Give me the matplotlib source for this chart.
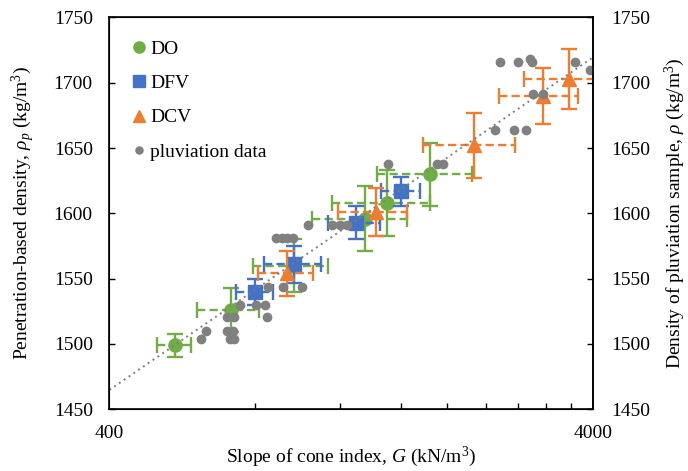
import matplotlib
matplotlib.use('Agg')
import matplotlib.pyplot as plt
from matplotlib.ticker import FixedLocator, NullFormatter, FixedFormatter
import numpy as np

# ---- data ----
# DO
do_g = [546, 712, 964, 1350, 1497, 1837]
do_g_err = [45, 105, 170, 302, 344, 409]
do_rho = [1499, 1526, 1560, 1596, 1608, 1630]
do_rho_err = [9, 17, 20, 25, 25, 24]

# DFV
dfv_g = [800, 965, 1293, 1605]
dfv_g_err = [70, 130, 158, 150]
dfv_rho = [1540, 1561, 1593, 1617]
dfv_rho_err = [10, 14, 13, 11]

# DCV
dcv_g = [932, 1421, 2265, 3147, 3572]
dcv_g_err = [122, 231, 488, 585, 690]
dcv_rho = [1554, 1601, 1652, 1690, 1703]
dcv_rho_err = [17, 18.5, 25, 21.5, 23]

# pluviation data
pluv_g = [619, 710, 724, 634, 700, 722, 700, 723, 848, 745, 804, 839,
          852, 915, 1002, 884, 909, 932, 959, 1031, 1154, 1199, 1240,
          1509, 1903, 1958, 2508, 2750, 2908, 3010, 3156, 2568, 2803,
          2963, 2987, 3671, 3943]
pluv_rho = [1504, 1504, 1504, 1510, 1510, 1510, 1521, 1521, 1521, 1530,
            1530, 1530, 1544, 1544, 1544, 1581, 1581, 1581, 1581, 1591,
            1591, 1591, 1591, 1638, 1638, 1638, 1664, 1664, 1664, 1691,
            1691, 1716, 1716, 1718, 1716, 1716, 1710]

# trend line end points (straight on log axis)
trend_g = [400, 4000]
trend_rho = [1464.8, 1719.5]

y_ticks = [1450, 1500, 1550, 1600, 1650, 1700, 1750]
x_major = [400, 4000]
x_minor = [800, 1200, 1600, 2000, 2400, 2800, 3200, 3600]

COLORS = {'do': '#70AD47', 'dfv': '#4472C4', 'dcv': '#ED7D31', 'pluv': '#808080'}
FS = 14

plt.rcParams['font.family'] = 'Liberation Serif'
plt.rcParams['mathtext.fontset'] = 'custom'
plt.rcParams['mathtext.rm'] = 'Liberation Serif'
plt.rcParams['mathtext.it'] = 'Liberation Serif:italic'
plt.rcParams['font.size'] = FS


def draw_series(ax, g, g_err, rho, rho_err, color, marker, ms, label, z):
    # vertical error bars (solid)
    ax.errorbar(g, rho, yerr=rho_err, fmt='none', ecolor=color,
                elinewidth=1.7, capsize=5.5, capthick=1.7, zorder=z)
    # horizontal error bars (dashed)
    eb = ax.errorbar(g, rho, xerr=g_err, fmt='none', ecolor=color,
                     elinewidth=1.7, capsize=5.5, capthick=1.7, zorder=z)
    for lc in eb[2]:
        lc.set_linestyle((0, (3.5, 1.8)))
    ax.plot(g, rho, linestyle='none', marker=marker, markersize=ms,
            color=color, markeredgecolor=color, label=label, zorder=z + 0.5)


fig = plt.figure(figsize=(6.88, 4.71), dpi=100)
ax = fig.add_axes([0.159, 0.131, 0.703, 0.832])

draw_series(ax, do_g, do_g_err, do_rho, do_rho_err, COLORS['do'], 'o', 9.5, 'DO', 2)
draw_series(ax, dfv_g, dfv_g_err, dfv_rho, dfv_rho_err, COLORS['dfv'], 's', 9.5, 'DFV', 3)
draw_series(ax, dcv_g, dcv_g_err, dcv_rho, dcv_rho_err, COLORS['dcv'], '^', 10.5, 'DCV', 4)
ax.plot(pluv_g, pluv_rho, linestyle='none', marker='o', markersize=6,
        color=COLORS['pluv'], label='pluviation data', zorder=6)
ax.plot(trend_g, trend_rho, linestyle=(0, (1, 2)), color='#7F7F7F',
        linewidth=1.4, zorder=7)

ax.set_xscale('log')
ax.set_xlim(400, 4000)
ax.set_ylim(1450, 1750)
ax.xaxis.set_major_locator(FixedLocator(x_major))
ax.xaxis.set_major_formatter(FixedFormatter([str(v) for v in x_major]))
ax.xaxis.set_minor_locator(FixedLocator(x_minor))
ax.xaxis.set_minor_formatter(NullFormatter())
ax.set_yticks(y_ticks)

for sp in ax.spines.values():
    sp.set_linewidth(1.2)
    sp.set_color('black')

ax.tick_params(axis='both', which='both', direction='in', width=1.0, labelsize=FS)
ax.tick_params(axis='x', which='major', length=0, pad=11)
ax.tick_params(axis='x', which='minor', length=4)
ax.tick_params(axis='y', which='major', length=4, pad=12)

ax.set_xlabel(r'Slope of cone index, $G$ (kN/m$^3$)', fontsize=FS, labelpad=2)
ax.set_ylabel(r'Penetration-based density, $\rho_p$ (kg/m$^3$)', fontsize=FS, labelpad=12)

ax2 = ax.twinx()
ax2.set_ylim(1450, 1750)
ax2.set_yticks(y_ticks)
ax2.tick_params(axis='y', direction='in', length=4, width=1.0, labelsize=FS, pad=13)
ax2.spines['right'].set_linewidth(1.2)
ax2.set_ylabel(r'Density of pluviation sample, $\rho$ (kg/m$^3$)', fontsize=FS, labelpad=9)

ax.legend(loc='upper left', bbox_to_anchor=(0.02, 0.972), frameon=False,
          handlelength=0.8, handletextpad=0.2, labelspacing=0.86,
          borderaxespad=0.2, fontsize=FS, markerscale=0.85)

fig.savefig('out.png', dpi=100)
